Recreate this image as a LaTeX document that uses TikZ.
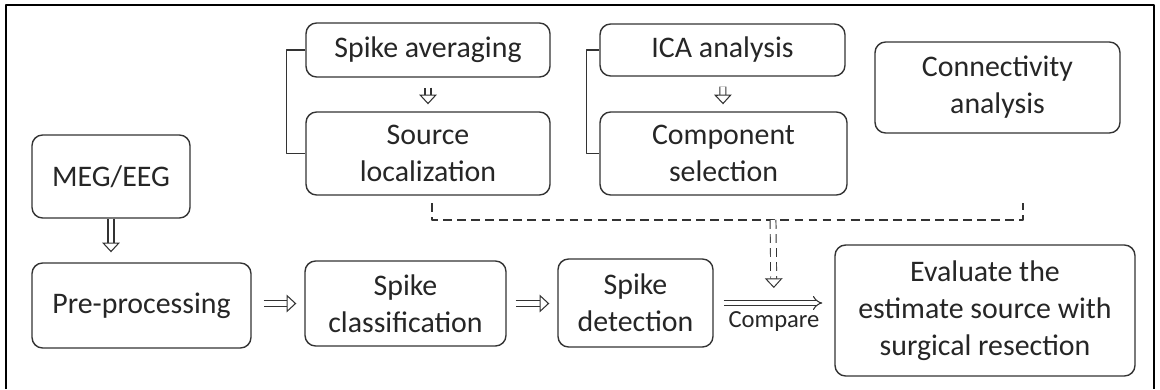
\documentclass[tikz,border=0pt]{standalone}
\usepackage{fontspec}
\setmainfont{Carlito}
\usetikzlibrary{arrows.meta}
\begin{document}
\begin{tikzpicture}[x=0.02cm,y=-0.02cm,line join=round,font=\fontsize{17}{21}\selectfont]
	\tikzset{box/.style={draw=black!80,line width=0.8pt,rounded corners=6pt,align=center,text=black!85,inner sep=0pt},
		dbl/.style={draw=black!80,double,double distance=2.8pt,line width=0.6pt,-{Triangle[open,length=5.5pt,width=10pt]}},
		dbl2/.style={draw=black!80,double,double distance=2.2pt,line width=0.6pt,-{Implies[scale=1.6]}},
		dsh/.style={draw=black!80,line width=0.7pt,dash pattern=on 5pt off 3pt}}
	\useasboundingbox (0,0) rectangle (1160,389);
	\draw[line width=1.1pt] (6,389)--(6,5)--(1154,5)--(1154,389);
	% upper row
	\node[box,minimum width=4.88cm,minimum height=1.08cm] (avg) at (428,50) {Spike averaging};
	\node[box,minimum width=4.88cm,minimum height=1.66cm] (loc) at (428,153.5) {Source\\localization};
	\node[box,minimum width=4.9cm,minimum height=1.04cm] (ica) at (722.5,50) {ICA analysis};
	\node[box,minimum width=4.94cm,minimum height=1.66cm] (comp) at (723.5,153.5) {Component\\selection};
	\node[box,minimum width=4.9cm,minimum height=1.82cm] (conn) at (997.5,87.5) {Connectivity\\analysis};
	% lower row
	\node[box,minimum width=3.16cm,minimum height=1.66cm] (meg) at (111,176.5) {MEG/EEG};
	\node[box,minimum width=4.38cm,minimum height=1.7cm] (pre) at (141.5,305.5) {Pre-processing};
	\node[box,minimum width=4.02cm,minimum height=1.7cm] (cls) at (405.5,303.5) {Spike\\classification};
	\node[box,minimum width=3.1cm,minimum height=1.76cm] (det) at (635.5,303) {Spike\\detection};
	\node[box,minimum width=6cm,minimum height=2.62cm] (eval) at (985,310.5) {Evaluate the\\estimate source with\\surgical resection};
	% brackets
	\draw[draw=black!80,line width=0.7pt] (avg.west) -- ++(-19,0) |- (loc.west);
	\draw[draw=black!80,line width=0.7pt] (ica.west) -- ++(-13,0) |- (comp.west);
	% arrows
	\draw[dbl,shorten <=0.2cm,shorten >=0.14cm] (avg) -- (loc);
	\draw[dbl,shorten <=0.2cm,shorten >=0.14cm] (ica) -- (comp);
	\draw[dbl,shorten >=0.2cm] (meg.south) -- (meg.south |- pre.north);
	\draw[dbl,shorten <=0.24cm,shorten >=0.16cm] (cls.west -| pre.east) -- (cls.west);
	\draw[dbl,shorten <=0.18cm,shorten >=0.16cm] (cls.east) -- (cls.east -| det.west);
	\draw[dbl2,shorten <=0.2cm,shorten >=0.24cm] (det.east) -- node[below=1pt,font=\fontsize{14}{16}\selectfont,text=black!85] {Compare} coordinate[pos=0.5] (cmp) (det.east -| eval.west);
	% dashed links
	\coordinate (dl) at (432,203);
	\coordinate (dr) at (1023,203);
	\coordinate (dm) at (773,220);
	\draw[dsh] (dl) |- (dm) -| (dr);
	\draw[dbl,dsh,line width=0.55pt,shorten >=0.3cm] (dm) -- (cmp);
\end{tikzpicture}
\end{document}
